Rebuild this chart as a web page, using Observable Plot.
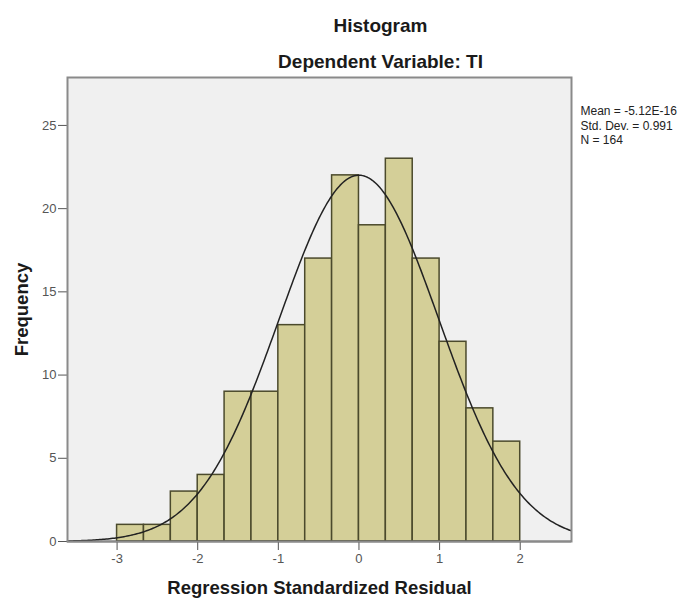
<!DOCTYPE html>
<html><head><meta charset="utf-8">
<script src="https://cdn.jsdelivr.net/npm/d3@7"></script>
<script src="https://cdn.jsdelivr.net/npm/@observablehq/plot@0.6"></script>
<style>body{margin:0;background:#fff}</style>
</head><body><div id="chart"></div>
<script>
// Data
const binStarts = [-3, -8/3, -7/3, -2, -5/3, -4/3, -1, -2/3, -1/3, 0, 1/3, 2/3, 1, 4/3, 5/3];
const binWidth = 1/3;
const counts = [1, 1, 3, 4, 9, 9, 13, 17, 22, 19, 23, 17, 12, 8, 6];
const statMean = -5.12e-16, statSd = 0.991, statN = 164;
const xTicks = [-3, -2, -1, 0, 1, 2];
const yTicks = [0, 5, 10, 15, 20, 25];
const legendLines = ["Mean = -5.12E-16", "Std. Dev. = 0.991", "N = 164"];
const titleText = "Histogram";
const subtitleText = "Dependent Variable: TI";
const xLabel = "Regression Standardized Residual";
const yLabel = "Frequency";
const xDomain = [-3.615, 2.636];
const yDomain = [0, 27.88];

const bins = counts.map((c, i) => ({x1: binStarts[i], x2: binStarts[i] + binWidth, count: c}));
// Normal curve defined by the displayed statistics (scaled to counts)
const curve = d3.range(xDomain[0], xDomain[1] + 0.0001, 0.02).map(x => ({
  x,
  y: statN * binWidth * Math.exp(-0.5 * ((x - statMean) / statSd) ** 2) / (statSd * Math.sqrt(2 * Math.PI))
}));

const font = "'Liberation Sans', Arial, sans-serif";

const chart = Plot.plot({
  width: 685,
  height: 599,
  marginLeft: 67,
  marginRight: 114,
  marginTop: 77,
  marginBottom: 58,
  style: {fontFamily: font, fontSize: "13px", color: "#555", background: "#fff"},
  x: {domain: xDomain, ticks: xTicks, tickSize: 9, tickPadding: 3, tickFormat: d => String(d), label: null},
  y: {domain: yDomain, ticks: yTicks, tickSize: 9, tickPadding: 2, tickFormat: d => String(d), label: null},
  marks: [
    Plot.frame({fill: "#f0f0f0"}),
    Plot.rectY(bins, {x1: "x1", x2: "x2", y: "count", fill: "#d4cf98", stroke: "#4b4a2c", strokeWidth: 1.5}),
    Plot.line(curve, {x: "x", y: "y", stroke: "#222", strokeWidth: 1.5}),
    Plot.ruleY([0], {stroke: "#111", strokeWidth: 1.5}),
    Plot.frame({stroke: "#8a8a8a", strokeWidth: 2}),
    Plot.text([titleText], {text: d => d, frameAnchor: "top", dx: 61, dy: -52, lineAnchor: "middle", fontSize: 19, fontWeight: "bold", fill: "#1a1a1a"}),
    Plot.text([subtitleText], {text: d => d, frameAnchor: "top", dx: 61, dy: -16, lineAnchor: "middle", fontSize: 19, fontWeight: "bold", fill: "#1a1a1a"}),
    Plot.text([xLabel], {text: d => d, frameAnchor: "bottom", dy: 47, lineAnchor: "middle", fontSize: 18.5, fontWeight: "bold", fill: "#1a1a1a"}),
    Plot.text([yLabel], {text: d => d, frameAnchor: "left", dx: -45, rotate: -90, lineAnchor: "middle", textAnchor: "middle", fontSize: 18.5, fontWeight: "bold", fill: "#1a1a1a"}),
    Plot.text([legendLines.join("\n")], {text: d => d, frameAnchor: "top-right", dx: 9, dy: 28, textAnchor: "start", lineAnchor: "top", lineHeight: 1.17, fontSize: 12, fill: "#222"})
  ]
});
document.getElementById("chart").appendChild(chart);
</script>
</body></html>
